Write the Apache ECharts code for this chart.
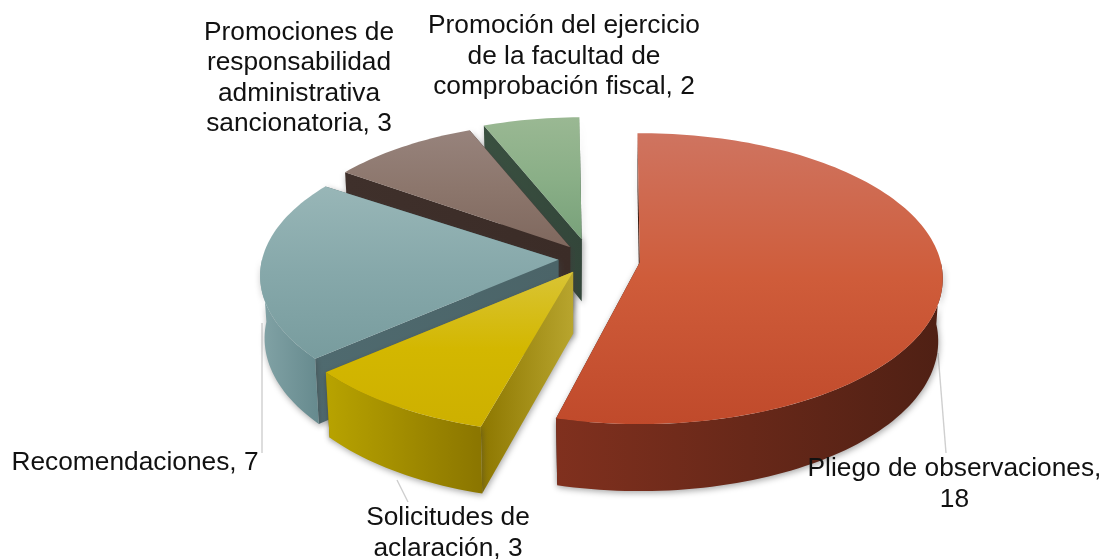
<!DOCTYPE html>
<html><head><meta charset="utf-8">
<style>html,body{margin:0;padding:0;background:#fff}#c{width:1106px;height:559px}</style>
<script src="https://cdn.jsdelivr.net/npm/echarts@6/dist/echarts.min.js"></script>
</head><body><div id="c"></div>
<script>
const categories = ['Pliego de observaciones','Solicitudes de\naclaración','Recomendaciones','Promociones de\nresponsabilidad\nadministrativa\nsancionatoria','Promoción del ejercicio\nde la facultad de\ncomprobación fiscal'];
const values = [18,3,7,3,2];
const separators = [',\n',', ',', ',', ',', '];

// presentation, not data
const explode = [.167,.105,.105,.105,.14];
const radialScale = [1,1,.985,.97,.94];
const trimStart = [0,0,1,0,0];
const trimEnd = [1.5,-1,1.5,0,0];
const topColors = [['#cf7460','#cf5c3a','#c04a2b'],['#d9c435','#d3b700','#cdb000'],['#98b6b7','#86a8aa','#789c9e'],['#97837c','#8c766c','#7f685e'],['#9ab893','#8aaf87','#78a17a']];
const wallColors = [['#80301e','#4f2014'],['#b8a300','#8a7500'],['#82a3a6','#668a8e'],['#3d2f2a','#3d2f2a'],['#364a39','#364a39']];
const cutColors = [['#3a1a10','#3a1a10'],['#8d7700','#b8a52e'],['#4f6a6f','#4b6468'],['#3f302b','#3b2c27'],['#3a5040','#33463a']];
const labelPos = [[954.5,484],[448,533],[135,463],[299,78],[564,56.5]];
const leaders = [[[938,353],[946,453]],[[397,480],[408,502]],[[262,323],[262,453]],null,null];
const CX=590, CY=259, RX=301, RY=143.6, P=.113, DEPTH=62, START=-.5, BOTTOM=.985;

const total = values.reduce((a,b)=>a+b,0);
const rad = d=>d*Math.PI/180;
const bounds = []; let acc = START;
values.forEach(v=>{const a0=acc; acc+=v/total*360; bounds.push([a0,acc]);});

function project(i, ang, r, low){
  const [a0,a1]=bounds[i], mid=rad((a0+a1)/2), e=explode[i];
  const ax=CX+e*Math.sin(mid)*RX, ay=CY-e*Math.cos(mid)*RY;
  const t=rad(ang), u=Math.sin(t), v=-Math.cos(t), rr=r*radialScale[i];
  const s=1/(1-P*v*rr), k=low?BOTTOM:1;
  const d=low?DEPTH*(1+.12*v*rr):0;
  return [ax+u*rr*k*RX*s, ay+v*rr*k*RY*s+d];
}
const grad=(c,h)=>new echarts.graphic.LinearGradient(0,0,h?1:0,h?0:1,c.map((x,j)=>({offset:c.length>1?j/(c.length-1):0,color:x})));
const shade={shadowBlur:6,shadowColor:'rgba(60,60,60,.45)',shadowOffsetX:1,shadowOffsetY:2};
function poly(points,fill,extra){return {type:'polygon',shape:{points},style:Object.assign({fill,stroke:null},extra||{})};}

function renderSlice(params,api){
  const i=api.value(0), a0=bounds[i][0]+trimStart[i], a1=bounds[i][1]-trimEnd[i], children=[];
  const arc=(lo,hi,low)=>{const n=Math.max(2,Math.ceil((hi-lo)/1.5)),o=[];for(let k=0;k<=n;k++)o.push(project(i,lo+(hi-lo)*k/n,1,low));return o;};
  [a1,a0].forEach(a=>{
    children.push(poly([project(i,a,0,false),project(i,a,1,false),project(i,a,1,true),project(i,a,0,true)],grad(cutColors[i],true),shade));
  });
  const lo=Math.max(a0,90), hi=Math.min(a1,270);
  if(hi>lo){
    children.push(poly(arc(lo,hi,false).concat(arc(lo,hi,true).reverse()),grad(wallColors[i],true),shade));
  }
  children.push(poly([project(i,a0,0,false)].concat(arc(a0,a1,false)),grad(topColors[i],false)));
  return {type:'group',children};
}
function renderLeader(params,api){
  const l=leaders[api.value(0)];
  return l?{type:'polyline',shape:{points:l},style:{stroke:'#cfcfcf',lineWidth:1.4,fill:null}}:{type:'group',children:[]};
}
function renderLabel(params,api){
  const i=api.value(0);
  return {type:'text',x:labelPos[i][0],y:labelPos[i][1],style:{text:categories[i]+separators[i]+values[i],fill:'#111',
    font:'26.3px "Liberation Sans", Arial, sans-serif',lineHeight:30.5,align:'center',verticalAlign:'middle'}};
}
const idx=values.map((_,i)=>[i]);
const chart=echarts.init(document.getElementById('c'),null,{renderer:'canvas'});
chart.setOption({
  animation:false, backgroundColor:'#fff',
  series:[
    {type:'custom',coordinateSystem:'none',z:1,silent:true,renderItem:renderLeader,data:idx},
    {type:'custom',coordinateSystem:'none',z:2,silent:true,renderItem:renderSlice,data:idx.slice().reverse(),encode:{value:0}},
    {type:'custom',coordinateSystem:'none',z:3,silent:true,renderItem:renderLabel,data:idx}
  ]
});
</script></body></html>
